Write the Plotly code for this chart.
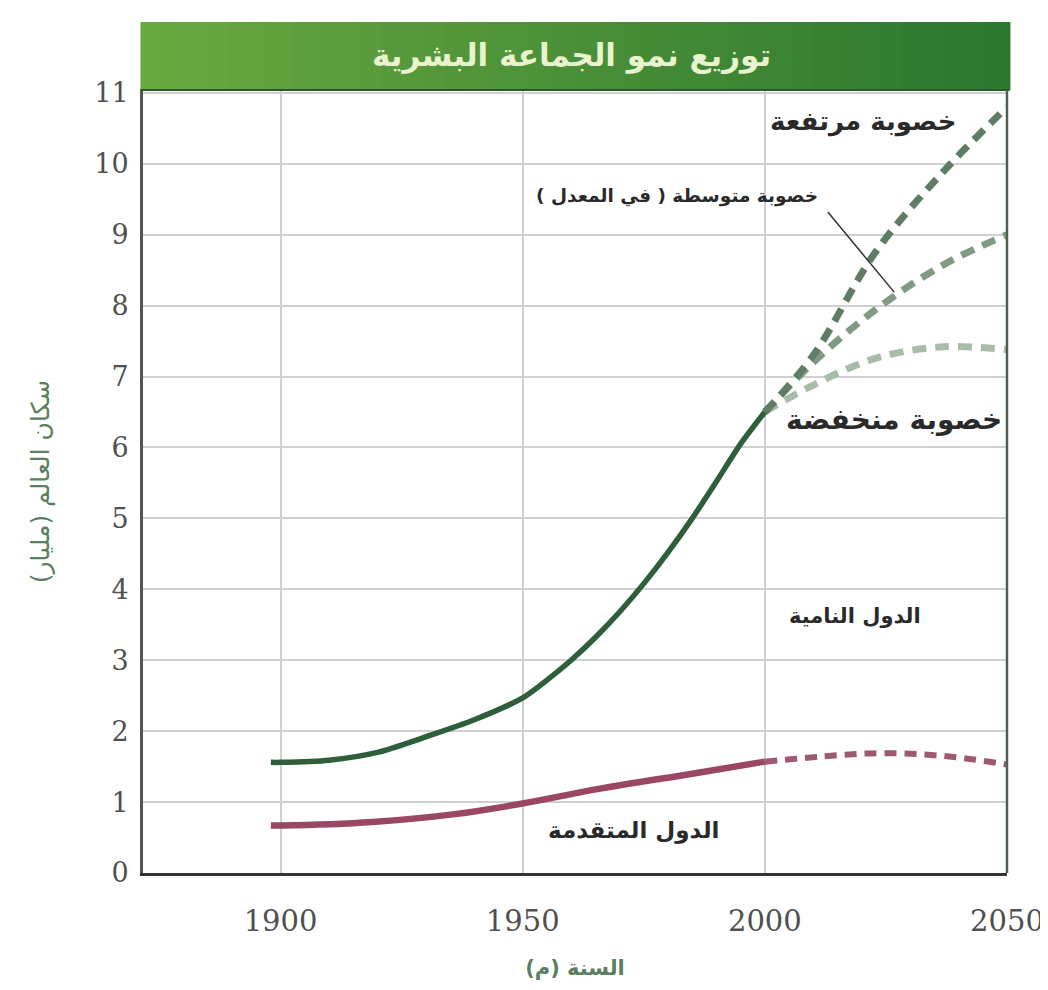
import plotly.graph_objects as go

# ---- data ----
dev_years = [1898, 1900, 1910, 1920, 1930, 1940, 1950, 1955, 1960, 1965, 1970, 1975, 1980, 1985, 1990, 1995, 2000]
dev_pop = [1.56, 1.56, 1.59, 1.7, 1.92, 2.16, 2.47, 2.72, 3.0, 3.32, 3.68, 4.08, 4.52, 5.0, 5.52, 6.05, 6.5]

proj_years = [2000, 2010, 2023, 2037, 2050]
high_pop = [6.5, 7.3, 8.77, 9.9, 10.8]
medium_pop = [6.5, 7.2, 7.95, 8.58, 9.0]
low_pop = [6.5, 6.88, 7.26, 7.42, 7.38]

adv_years = [1898, 1900, 1919, 1936, 1950, 1966, 1985, 2000]
adv_pop = [0.67, 0.67, 0.72, 0.83, 0.98, 1.19, 1.4, 1.57]
adv_proj_years = [2000, 2015, 2024, 2033, 2041, 2050]
adv_proj_pop = [1.57, 1.66, 1.69, 1.67, 1.62, 1.53]

x_ticks = [1900, 1950, 2000, 2050]
y_ticks = list(range(0, 12))

title_text = "توزيع نمو الجماعة البشرية"
y_title = "سكان العالم (مليار)"
x_title = "السنة (م)"
lbl_high = "خصوبة مرتفعة"
lbl_medium = "خصوبة متوسطة ( في المعدل )"
lbl_low = "خصوبة منخفضة"
lbl_dev = "الدول النامية"
lbl_adv = "الدول المتقدمة"

AR_FONT = "DejaVu Sans, Noto Sans, sans-serif"
NUM_FONT = "DejaVu Serif, Liberation Serif, serif"

fig = go.Figure()

fig.add_trace(go.Scatter(x=proj_years, y=low_pop, mode="lines",
                         line=dict(color="#a9bcaa", width=7, dash="14px,9px", shape="spline")))
fig.add_trace(go.Scatter(x=proj_years, y=medium_pop, mode="lines",
                         line=dict(color="#809a84", width=7, dash="14px,9px", shape="spline")))
fig.add_trace(go.Scatter(x=proj_years, y=high_pop, mode="lines",
                         line=dict(color="#5f7d64", width=7, dash="14px,9px", shape="spline")))
fig.add_trace(go.Scatter(x=dev_years, y=dev_pop, mode="lines",
                         line=dict(color="#2f5f3a", width=5.5, shape="spline", smoothing=0.8)))
fig.add_trace(go.Scatter(x=adv_proj_years, y=adv_proj_pop, mode="lines",
                         line=dict(color="#9c5a70", width=6, dash="12px,8px", shape="spline")))
fig.add_trace(go.Scatter(x=adv_years, y=adv_pop, mode="lines",
                         line=dict(color="#9a4862", width=6.5, shape="spline")))

# title bar gradient (light green left -> dark green right)
n = 40
c0 = (0x6a, 0xa8, 0x40)
c1 = (0x2c, 0x78, 0x30)
x0p, x1p = -0.003, 1.003
for i in range(n):
    t = i / (n - 1)
    col = tuple(int(c0[k] + (c1[k] - c0[k]) * t) for k in range(3))
    fig.add_shape(type="rect", xref="paper", yref="paper",
                  x0=x0p + (x1p - x0p) * i / n, x1=x0p + (x1p - x0p) * (i + 1) / n + 0.001,
                  y0=1.0, y1=1.087, line=dict(width=0),
                  fillcolor="rgb(%d,%d,%d)" % col, layer="above")
fig.add_shape(type="line", xref="paper", yref="paper", x0=x0p, x1=x1p, y0=1.0, y1=1.0,
              line=dict(color="#2a5a2a", width=2), layer="above")

# pointer line for medium fertility
fig.add_shape(type="line", x0=2013, y0=9.32, x1=2026.7, y1=8.19,
              line=dict(color="#333333", width=1.5))

annos = [
    dict(x=0.496, y=1.0435, xref="paper", yref="paper", yanchor="middle", xanchor="center",
         text="<b>%s</b>" % title_text,
         font=dict(size=31, color="#eaf2d0", family=AR_FONT), showarrow=False),
    dict(x=2039.8, y=10.6, text="<b>%s</b>" % lbl_high, xanchor="right", yanchor="middle",
         font=dict(size=26, color="#2a2a2a", family=AR_FONT), showarrow=False),
    dict(x=2011.4, y=9.55, text="<b>%s</b>" % lbl_medium, xanchor="right", yanchor="middle",
         font=dict(size=18.5, color="#2a2a2a", family=AR_FONT), showarrow=False),
    dict(x=2049.3, y=6.4, text="<b>%s</b>" % lbl_low, xanchor="right", yanchor="middle",
         font=dict(size=28, color="#2a2a2a", family=AR_FONT), showarrow=False),
    dict(x=2018.7, y=3.62, text="<b>%s</b>" % lbl_dev, yanchor="middle",
         font=dict(size=21, color="#2a2a2a", family=AR_FONT), showarrow=False),
    dict(x=1972.8, y=0.6, text="<b>%s</b>" % lbl_adv, yanchor="middle",
         font=dict(size=23, color="#2a2a2a", family=AR_FONT), showarrow=False),
]

fig.update_layout(
    width=1048, height=990,
    margin=dict(l=135, r=40, t=82, b=125),
    paper_bgcolor="white", plot_bgcolor="white",
    showlegend=False,
    annotations=annos,
    xaxis=dict(range=[1871.6, 2050], tickvals=x_ticks, ticktext=[str(v) for v in x_ticks],
               showgrid=True, gridcolor="#d0d0d0", gridwidth=1.5,
               showline=True, linecolor="#333333", linewidth=3, mirror=False,
               zeroline=False, ticks="", ticklabelstandoff=20,
               tickfont=dict(family=NUM_FONT, size=29, color="#505050"),
               title=dict(text="<b>%s</b>" % x_title, standoff=24,
                          font=dict(family=AR_FONT, size=21, color="#5b7f60"))),
    yaxis=dict(range=[0, 11.04], tickvals=y_ticks,
               showgrid=True, gridcolor="#d0d0d0", gridwidth=1.5,
               showline=True, linecolor="#555555", linewidth=3,
               zeroline=False, ticks="", ticklabelstandoff=6,
               tickfont=dict(family=NUM_FONT, size=27, color="#505050"),
               title=dict(text=y_title, standoff=38,
                          font=dict(family=AR_FONT, size=25, color="#5b7f60"))),
)

# right border of the frame
fig.add_shape(type="line", xref="paper", yref="paper", x0=1.0, x1=1.0, y0=0, y1=1.0,
              line=dict(color="#4f5f50", width=2.5))

fig.write_html("out.html")
